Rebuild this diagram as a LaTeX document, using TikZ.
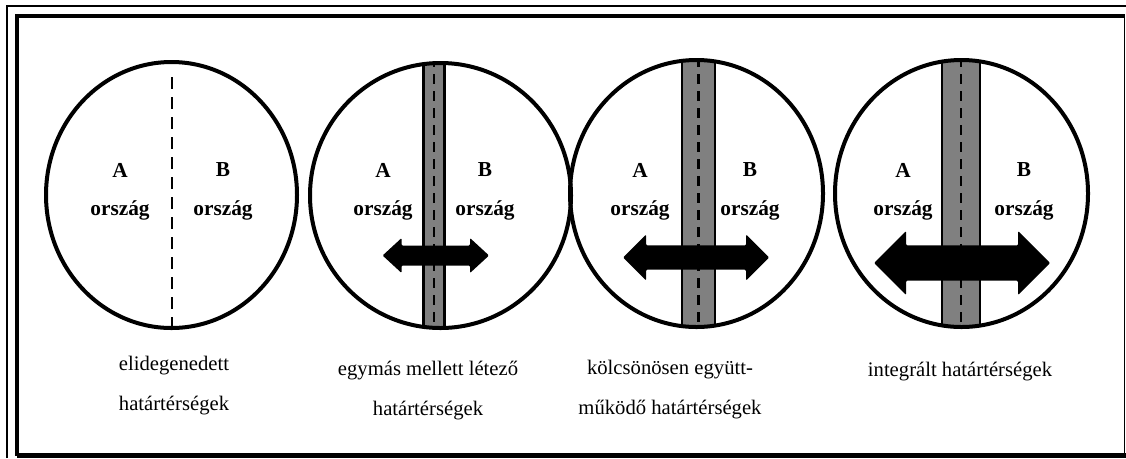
\documentclass[tikz,border=0pt]{standalone}
\usepackage{fontspec}
\setmainfont{Liberation Serif}

\tikzset{
  land/.style={line width=3pt},
  road/.style={draw=black, line width=1.8pt, fill=gray},
  midline/.style={line width=1.7pt, dash pattern=on 7.5pt off 5.25pt},
  border/.style={line width=1.8pt, dash pattern=on 9pt off 6pt},
  bridge/.style={fill=black, rounded corners=0.8pt},
  cname/.style={font=\fontsize{16}{18}\selectfont\bfseries},
  caption/.style={font=\fontsize{15.5}{30}\selectfont, align=center}
}

\begin{document}
\begin{tikzpicture}[x=0.75pt,y=-0.75pt]
\useasboundingbox (0,0) rectangle (1126,458);
% frames
\draw[line width=1.5pt] (6.5,458) -- (6.5,5.5) -- (1126,5.5);
\draw[line width=2.8pt] (17.3,455.5) -- (17.3,15.7) -- (1124.5,15.7);
\draw[line width=1.2pt] (1124.5,15.7) -- (1124.5,455.5);
\draw[line width=3.5pt] (17.3,455.5) -- (1126,455.5);
% first circle: only a border line
\draw[border] (172,77) -- (172,328);
\draw[land] (171.5,195) ellipse [x radius=125.5, y radius=133];
% circles with a road and a bridge arrow
\foreach \ex/\ey/\erx/\ery/\rx/\rw/\ax/\ay/\al/\ah/\as/\aH in {
  440.5/195.5/130.5/132.5/434/10.5/435.8/255.5/53.2/19/10/17.5,
  696.5/193.5/126.5/133.5/698.5/16.5/696/257.5/73/23/12.2/23,
  961.5/193.5/126.5/133.5/961/19/962/263/88/32/17.7/32}{
  \begin{scope}
    \clip (\ex,\ey) ellipse [x radius=\erx, y radius=\ery];
    \draw[road] ({\rx-\rw},40) rectangle ({\rx+\rw},340);
    \draw[midline] (\rx,40) -- (\rx,340);
  \end{scope}
  \draw[land] (\ex,\ey) ellipse [x radius=\erx, y radius=\ery];
  \fill[bridge] ({\ax-\al},\ay) -- ++(\ah,-\aH) -- ++(0,{\aH-\as})
    -- ++({2*\al-2*\ah},0) -- ++(0,{\as-\aH}) -- ++(\ah,\aH)
    -- ++(-\ah,\aH) -- ++(0,{\as-\aH}) -- ++({-2*\al+2*\ah},0)
    -- ++(0,{\aH-\as}) -- cycle;
}
% country names
\foreach \i/\xa/\xb in {1/120/223, 2/383/485, 3/640/750, 4/903/1024}{
  \node[cname] (a\i) at (\xa,170) {A};
  \node[cname] (oa\i) at (\xa,210) {ország};
  \node[cname] (b\i) at (\xb,170) {B};
  \node[cname] (ob\i) at (\xb,210) {ország};
}
% captions
\node[caption] (cap1) at (174,386) {elidegenedett\\határtérségek};
\node[caption] (cap2) at (428,391) {egymás mellett létező\\határtérségek};
\node[caption] (cap3) at (670,390) {kölcsönösen együtt-\\működő határtérségek};
\node[caption] (cap4) at (960,372) {integrált határtérségek};
\end{tikzpicture}
\end{document}
